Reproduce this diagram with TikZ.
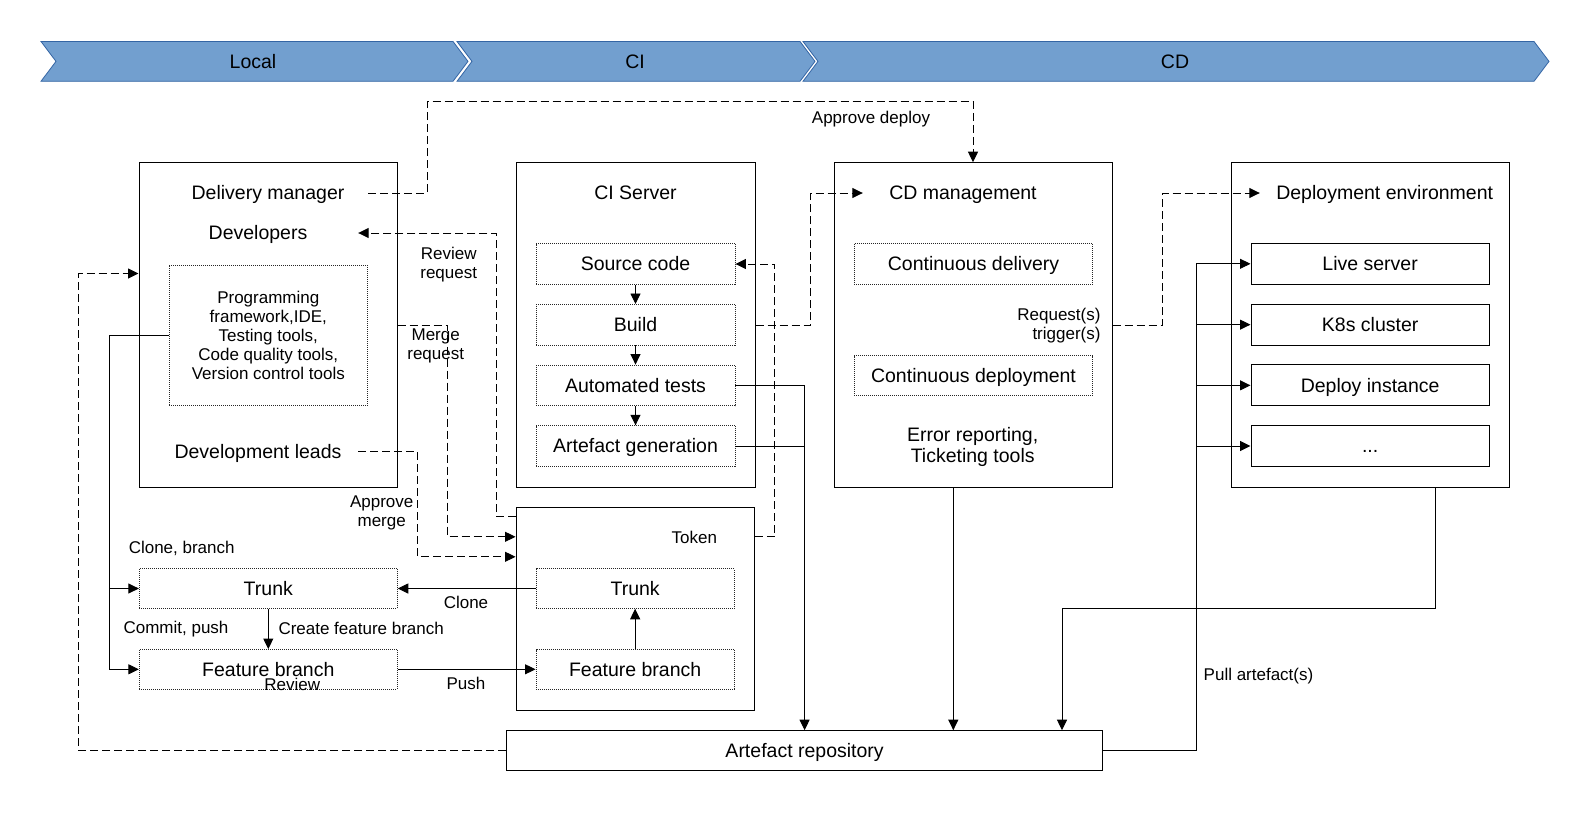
\documentclass[tikz,border=0pt]{standalone}
\usepackage{fontspec}
\setmainfont{Liberation Sans}
\usetikzlibrary{arrows.meta}
\definecolor{chev}{HTML}{729FCF}
\definecolor{chevline}{HTML}{3465A4}
\tikzset{
  big/.style={font=\fontsize{19.5}{21}\selectfont, inner sep=0pt, align=center},
  sm/.style={font=\fontsize{17}{19}\selectfont, inner sep=0pt, align=center},
  bigl/.style={big, text height=17.6pt, text depth=4.1pt},
  sml/.style={sm, text height=15.4pt, text depth=3.6pt},
  box/.style={draw, line width=1pt, inner sep=0pt},
  dbox/.style={draw=black!85, line width=0.9pt, dash pattern=on 1pt off 1pt, inner sep=0pt},
  con/.style={line width=0.95pt},
  dcon/.style={line width=0.95pt, dash pattern=on 8pt off 4pt},
  arr/.style={-{Triangle[length=10.5pt,width=10pt]}},
  chevshape/.style={fill=chev, draw=chevline, line width=0.8pt},
}
\begin{document}
\begin{tikzpicture}[x=1pt,y=-1pt]
\useasboundingbox (0,0) rectangle (1588,817);

% phase chevrons
\path[chevshape] (41,41.5) -- (453,41.5) -- (468,61.4) -- (453,81.3) -- (41,81.3) -- (56,61.4) -- cycle;
\path[chevshape] (457,41.5) -- (800,41.5) -- (815,61.4) -- (800,81.3) -- (457,81.3) -- (472,61.4) -- cycle;
\path[chevshape] (803,41.5) -- (1534,41.5) -- (1549,61.4) -- (1534,81.3) -- (803,81.3) -- (818,61.4) -- cycle;
\node[bigl] (plocal) at (253,61.4) {Local};
\node[bigl] (pci) at (635,61.4) {CI};
\node[bigl] (pcd) at (1175,61.4) {CD};

% main boxes
\node[box, minimum width=258pt, minimum height=324.6pt] (lbox) at (268,325) {};
\node[box, minimum width=239pt, minimum height=324.6pt] (cibox) at (635.5,325) {};
\node[box, minimum width=278pt, minimum height=324.6pt] (cdbox) at (973,325) {};
\node[box, minimum width=277.6pt, minimum height=324.6pt] (depbox) at (1370.5,325) {};
\node[box, minimum width=238.3pt, minimum height=202.7pt] (remote) at (635.2,608.65) {};
\node[box, minimum width=595.8pt, minimum height=39.3pt, bigl] (repo) at (804.6,750.35) {Artefact repository};

% local box content
\node[bigl, minimum width=200pt] (dm) at (268,193) {Delivery manager};
\node[bigl, minimum width=200pt] (dev) at (258,233) {Developers};
\node[bigl, minimum width=200pt] (dl) at (258,451.7) {Development leads};
\node[dbox, sm, minimum width=198pt, minimum height=140.7pt] (tools) at (268.3,335.35)
  {Programming\\framework,IDE,\\Testing tools,\\Code quality tools,\\Version control tools};

% CI box content
\node[bigl] (ciserver) at (635.5,193) {CI Server};
\node[dbox, bigl, minimum width=199pt, minimum height=40.5pt] (src) at (635.5,264) {Source code};
\node[dbox, bigl, minimum width=199pt, minimum height=40.5pt] (build) at (635.5,324.7) {Build};
\node[dbox, bigl, minimum width=199pt, minimum height=40.5pt] (tests) at (635.5,385.3) {Automated tests};
\node[dbox, bigl, minimum width=199pt, minimum height=40.5pt] (artgen) at (635.5,446) {Artefact generation};

% CD box content
\node[bigl, minimum width=200pt] (cdm) at (963,193) {CD management};
\node[dbox, bigl, minimum width=238.4pt, minimum height=41pt] (cdel) at (973.5,263.8) {Continuous delivery};
\node[dbox, bigl, minimum width=238.4pt, minimum height=40pt] (cdep) at (973.5,375.7) {Continuous deployment};
\node[sm, align=right, anchor=east] (reqtrig) at (1100.7,325.5) {Request(s)\\trigger(s)};
\node[big] (errrep) at (972.7,447) {Error reporting,\\Ticketing tools};

% deployment box content
\node[bigl, minimum width=249.4pt] (depenv) at (1384.7,193) {Deployment environment};
\node[box, bigl, minimum width=238.3pt, minimum height=40.8pt] (live) at (1370.15,263.8) {Live server};
\node[box, bigl, minimum width=238.3pt, minimum height=40.8pt] (k8s) at (1370.15,324.65) {K8s cluster};
\node[box, bigl, minimum width=238.3pt, minimum height=40.8pt] (inst) at (1370.15,385.35) {Deploy instance};
\node[box, bigl, minimum width=238.3pt, minimum height=40.8pt] (more) at (1370.15,446) {...};

% repositories
\node[dbox, bigl, minimum width=258pt, minimum height=39.6pt] (ltrunk) at (268.3,588.5) {Trunk};
\node[dbox, bigl, minimum width=258pt, minimum height=39.6pt] (lfeat) at (268.3,669.3) {Feature branch};
\node[dbox, bigl, minimum width=198.3pt, minimum height=39.6pt] (rtrunk) at (635.15,588.5) {Trunk};
\node[dbox, bigl, minimum width=198.3pt, minimum height=39.6pt] (rfeat) at (635.15,669.3) {Feature branch};
\node[sml] (token) at (694.3,537.3) {Token};

% labels
\node[sml] (lapdep) at (871,117.5) {Approve deploy};
\node[sm] (lrevreq) at (448.7,264.5) {Review\\request};
\node[sm] (lmerreq) at (435.7,345.5) {Merge\\request};
\node[sm] (lapmer) at (381.7,513) {Approve\\merge};
\node[sml] (lclbr) at (181.7,547.3) {Clone, branch};
\node[sml] (lcompu) at (176,627.3) {Commit, push};
\node[sml, anchor=west] (lcfb) at (278.3,628.3) {Create feature branch};
\node[sml] (lclone) at (466,602.3) {Clone};
\node[sml] (lpush) at (466,683.3) {Push};
\node[sml] (lreview) at (292.3,685) {Review};
\node[sml] (lpull) at (1258.5,674.5) {Pull artefact(s)};

% dashed connectors
\draw[dcon,arr] (dm.east) -- ++(59,0) -- ++(0,-91.7) -| (cdbox.north);
\draw[dcon,arr] ([yshift=-10pt]remote.north west) -- ++(-19.3,0) |- (dev.east);
\draw[dcon,arr] (lbox.east) -- ++(50.3,0) |- ([yshift=-30pt]remote.north west);
\draw[dcon,arr] (dl.east) -- ++(59.3,0) |- ([yshift=-50pt]remote.north west);
\draw[dcon,arr] ([yshift=-30pt]remote.north east) -- ++(20,0) |- (src.east);
\draw[dcon,arr] (cibox.east) -- ++(55,0) |- (cdm.west);
\draw[dcon,arr] (cdbox.east) -- ++(49.7,0) |- (depenv.west);
\draw[dcon,arr] (repo.west) -- ++(-427.4,0) |- ([yshift=-111.3pt]lbox.north west);

% CI pipeline
\draw[con,arr] (src.south) -- (build.north);
\draw[con,arr] (build.south) -- (tests.north);
\draw[con,arr] (tests.south) -- (artgen.north);
\draw[con,arr] (tests.east) -| (repo.north);
\draw[con] (artgen.east) -- (repo.north |- artgen.east);

% CD and deployment to repository
\draw[con,arr] ([xshift=-19.7pt]cdbox.south) -- ([xshift=-19.7pt]cdbox.south |- repo.north);
\draw[con,arr] ([xshift=64.5pt]depbox.south) -- ++(0,120.7) -| ([xshift=257.4pt]repo.north);
\coordinate (bus) at (1196,0);
\draw[con] (repo.east) -| (bus |- live.west);
\draw[con,arr] (bus |- live.west) -- (live.west);
\draw[con,arr] (bus |- k8s.west) -- (k8s.west);
\draw[con,arr] (bus |- inst.west) -- (inst.west);
\draw[con,arr] (bus |- more.west) -- (more.west);

% local git flow
\coordinate (vb) at (109.3,0);
\draw[con,arr] (tools.west) -| (vb |- lfeat.west) -- (lfeat.west);
\draw[con,arr] (vb |- ltrunk.west) -- (ltrunk.west);
\draw[con,arr] (ltrunk.south) -- (lfeat.north);
\draw[con,arr] (rtrunk.west) -- (ltrunk.east);
\draw[con,arr] (lfeat.east) -- (rfeat.west);
\draw[con,arr] (rfeat.north) -- (rtrunk.south);
\end{tikzpicture}
\end{document}
